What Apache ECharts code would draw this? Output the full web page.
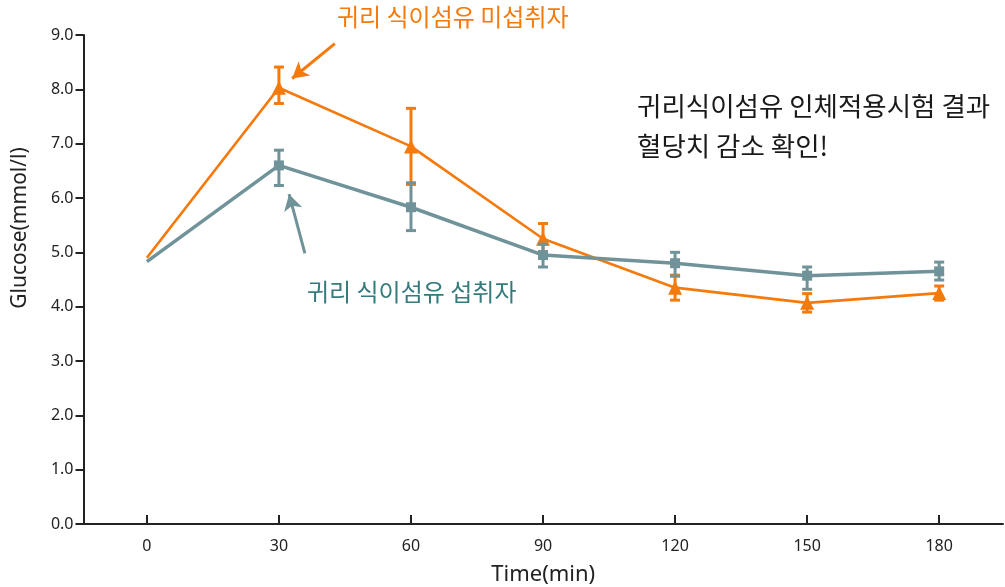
<!DOCTYPE html>
<html>
<head>
<meta charset="utf-8">
<script src="https://cdn.jsdelivr.net/npm/echarts@6/dist/echarts.min.js"></script>
<style>
html,body{margin:0;padding:0;background:#fff;}
#chart{width:1005px;height:587px;}
</style>
</head>
<body>
<div id="chart"></div>
<script>
// ---- data ----
const times = [0, 30, 60, 90, 120, 150, 180];
const xTicks = [0, 30, 60, 90, 120, 150, 180];
const yTicks = [0, 1, 2, 3, 4, 5, 6, 7, 8, 9];

const noIntakeName = '귀리 식이섬유 미섭취자';
const noIntakeMean = [4.90, 8.03, 6.95, 5.25, 4.35, 4.07, 4.25];
const noIntakeLow  = [null, 7.74, 6.25, 4.99, 4.12, 3.90, 4.12];
const noIntakeHigh = [null, 8.41, 7.65, 5.53, 4.58, 4.24, 4.38];

const intakeName = '귀리 식이섬유 섭취자';
const intakeMean = [4.83, 6.60, 5.83, 4.95, 4.80, 4.57, 4.65];
const intakeLow  = [null, 6.23, 5.40, 4.73, 4.56, 4.32, 4.49];
const intakeHigh = [null, 6.88, 6.28, 5.15, 5.00, 4.73, 4.82];

const headline = ['귀리식이섬유 인체적용시험 결과', '혈당치 감소 확인!'];
const xName = 'Time(min)';
const yName = 'Glucose(mmol/l)';

// ---- styles ----
const ORANGE = '#F57A0C';
const TEAL = '#6F9399';
const TEAL_TEXT = '#357A7C';
const AXIS = '#222222';
const LATIN = '"Noto Sans", Lato, sans-serif';
const KR = '"Noto Sans CJK KR", "Noto Sans", sans-serif';

function lineData(mean) {
  return times.map((t, i) => i === 0 ? { value: [t, mean[i]], symbol: 'none' } : [t, mean[i]]);
}
function errData(low, high) {
  const out = [];
  times.forEach((t, i) => { if (low[i] != null) out.push([t, low[i], high[i]]); });
  return out;
}
function errSeries(low, high, color, z) {
  return {
    type: 'custom',
    z: z,
    silent: true,
    data: errData(low, high),
    encode: { x: 0, y: [1, 2] },
    renderItem: function (params, api) {
      const x = api.value(0);
      const lo = api.coord([x, api.value(1)]);
      const hi = api.coord([x, api.value(2)]);
      const hw = 5;
      const st = { stroke: color, lineWidth: 3, fill: null };
      return {
        type: 'group',
        children: [
          { type: 'line', shape: { x1: lo[0], y1: lo[1], x2: hi[0], y2: hi[1] }, style: st },
          { type: 'line', shape: { x1: lo[0] - hw, y1: lo[1], x2: lo[0] + hw, y2: lo[1] }, style: st },
          { type: 'line', shape: { x1: hi[0] - hw, y1: hi[1], x2: hi[0] + hw, y2: hi[1] }, style: st }
        ]
      };
    }
  };
}

const chart = echarts.init(document.getElementById('chart'), null, { renderer: 'canvas' });
chart.setOption({
  animation: false,
  backgroundColor: '#ffffff',
  grid: { left: 83.5, right: 2, top: 35, bottom: 63, containLabel: false, outerBoundsMode: 'none' },
  xAxis: {
    type: 'value',
    min: -14.4,
    max: 194.5,
    splitLine: { show: false },
    axisLine: { show: true, onZero: false, lineStyle: { color: AXIS, width: 2 } },
    axisTick: { show: true, inside: true, length: 9, customValues: xTicks, lineStyle: { color: AXIS, width: 2 } },
    axisLabel: { customValues: xTicks, color: AXIS, fontSize: 16, fontFamily: LATIN, margin: 14 },
    name: xName,
    nameLocation: 'middle',
    nameGap: 40,
    nameTextStyle: { color: AXIS, fontSize: 22, fontFamily: LATIN }
  },
  yAxis: {
    type: 'value',
    min: 0,
    max: 9,
    interval: 1,
    splitLine: { show: false },
    axisLine: { show: true, onZero: false, lineStyle: { color: AXIS, width: 2 } },
    axisTick: { show: true, inside: false, length: 8, customValues: yTicks, lineStyle: { color: AXIS, width: 2 } },
    axisLabel: { customValues: yTicks, color: AXIS, fontSize: 16, fontFamily: LATIN, margin: 10,
      formatter: v => Number(v).toFixed(1) }
  },
  graphic: [
    { type: 'text', x: 20, y: 228, rotation: Math.PI / 2,
      style: { text: yName, fill: AXIS, fontSize: 21, fontFamily: LATIN, align: 'center', verticalAlign: 'middle' } },
    { type: 'text', left: 337, top: 5,
      style: { text: noIntakeName, fill: ORANGE, fontSize: 24, fontFamily: KR } },
    { type: 'text', left: 307, top: 280,
      style: { text: intakeName, fill: TEAL_TEXT, fontSize: 24, fontFamily: KR } },
    { type: 'text', left: 637, top: 86,
      style: { text: headline.join('\n'), fill: '#1a1a1a', fontSize: 26.5, lineHeight: 40, fontFamily: KR } }
  ],
  series: [
    errSeries(noIntakeLow, noIntakeHigh, ORANGE, 2),
    {
      name: noIntakeName,
      type: 'line',
      z: 3,
      data: lineData(noIntakeMean),
      symbol: 'triangle',
      symbolSize: 14,
      showSymbol: true,
      itemStyle: { color: ORANGE },
      lineStyle: { color: ORANGE, width: 2.7 },
      markLine: {
        silent: true,
        symbol: ['none', 'arrow'],
        symbolSize: [14, 16],
        label: { show: false },
        lineStyle: { color: ORANGE, width: 3, type: 'solid' },
        data: [[{ coord: [42.7, 8.84] }, { coord: [33.0, 8.20] }]]
      }
    },
    errSeries(intakeLow, intakeHigh, TEAL, 4),
    {
      name: intakeName,
      type: 'line',
      z: 5,
      data: lineData(intakeMean),
      symbol: 'rect',
      symbolSize: 10,
      showSymbol: true,
      itemStyle: { color: TEAL },
      lineStyle: { color: TEAL, width: 3.5 },
      markLine: {
        silent: true,
        symbol: ['none', 'arrow'],
        symbolSize: [14, 16],
        label: { show: false },
        lineStyle: { color: TEAL, width: 3, type: 'solid' },
        data: [[{ coord: [35.9, 4.98] }, { coord: [32.3, 6.07] }]]
      }
    }
  ]
});
</script>
</body>
</html>
